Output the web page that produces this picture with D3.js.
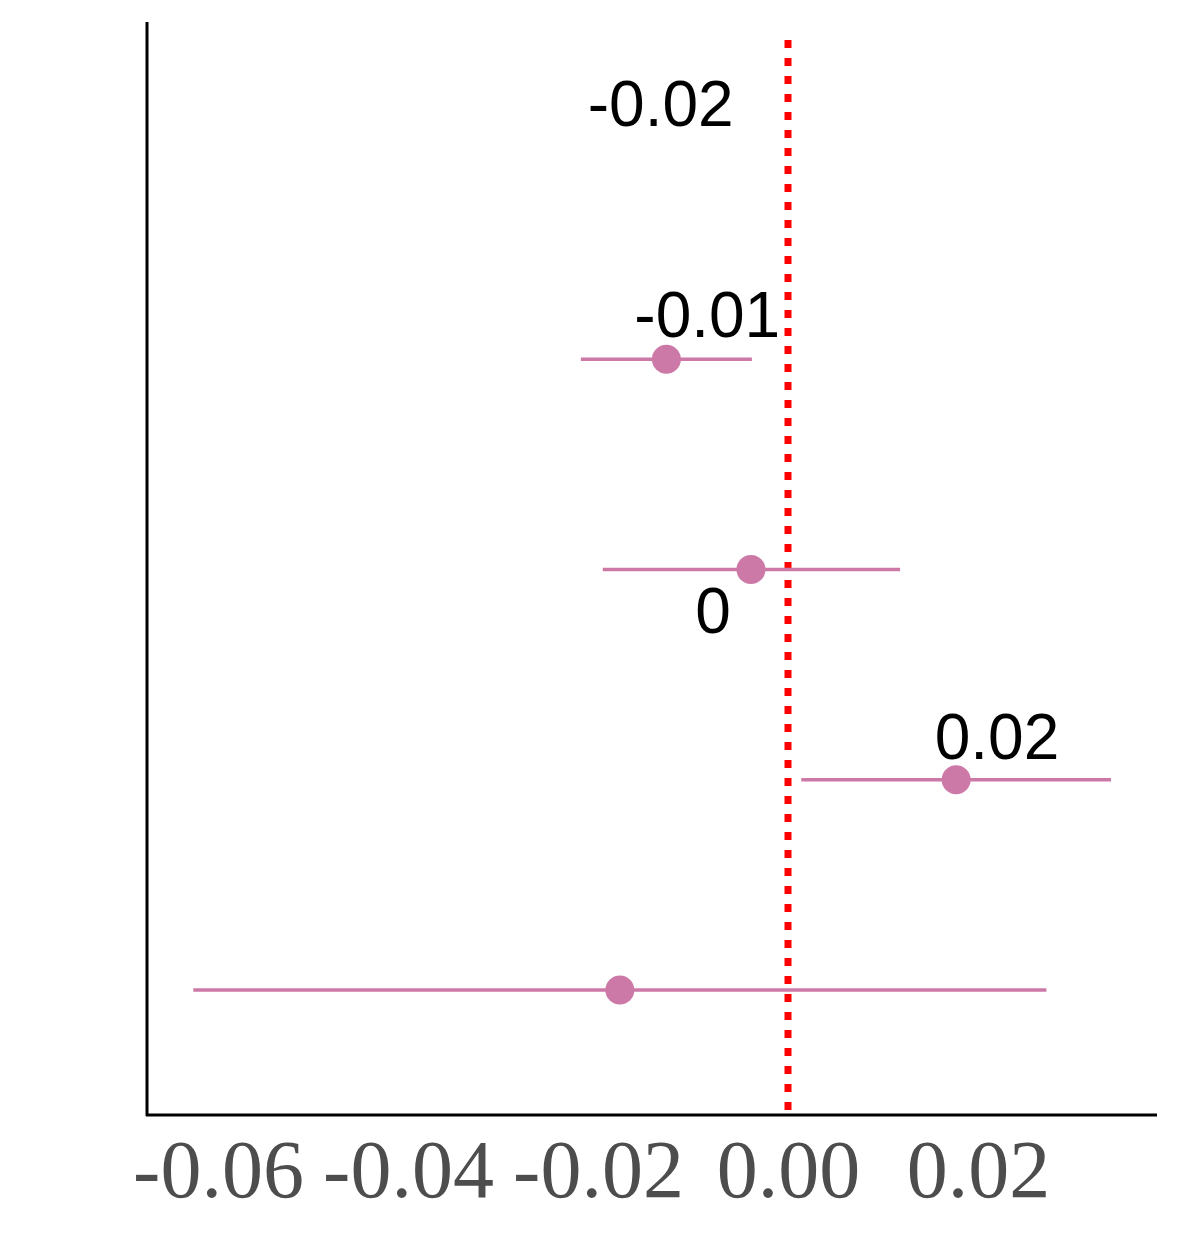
<!DOCTYPE html>
<html>
<head>
<meta charset="utf-8">
<script src="https://cdn.jsdelivr.net/npm/d3@7"></script>
<style>body{margin:0;background:#fff}</style>
</head>
<body>
<svg id="chart" width="1181" height="1247"></svg>
<script>
// rows top to bottom; first row has no estimate drawn
const rows = [1, 2, 3, 4, 5];
const estimates = [null, -0.0128, -0.0039, 0.0177, -0.0177];
const lower = [null, -0.0218, -0.0195, 0.0014, -0.0626];
const upper = [null, -0.0038, 0.0118, 0.034, 0.0272];
const labels = ["-0.02", "-0.01", "0", "0.02", null];
const labelX = [-0.0134, -0.0085, -0.0079, 0.022, null];
const labelDy = [-23, -22, 63, -21, 0];
const ticks = [-0.06, -0.04, -0.02, 0.00, 0.02];
const tickLabels = ["-0.06", "-0.04", "-0.02", "0.00", "0.02"];

const svg = d3.select("#chart");
const x = d3.scaleLinear().domain([-0.06, 0.02]).range([218, 978]);
const y = d3.scalePoint().domain(rows).range([149, 990]);

svg.append("line").attr("x1", 147).attr("x2", 147).attr("y1", 22).attr("y2", 1116)
  .attr("stroke", "#000").attr("stroke-width", 3);
svg.append("line").attr("x1", 146).attr("x2", 1157).attr("y1", 1115).attr("y2", 1115)
  .attr("stroke", "#000").attr("stroke-width", 3);

svg.append("line").attr("x1", x(0)).attr("x2", x(0)).attr("y1", 40).attr("y2", 1115)
  .attr("stroke", "#ff0000").attr("stroke-width", 7).attr("stroke-dasharray", "8,10");

const axis = svg.append("g").attr("transform", "translate(0,1115)")
  .call(d3.axisBottom(x).tickValues(ticks).tickFormat((d, i) => tickLabels[i]).tickSize(0).tickPadding(24));
axis.select(".domain").remove();
axis.selectAll("text").attr("font-family", "Liberation Serif, DejaVu Serif, serif")
  .attr("font-size", 82).attr("fill", "#4d4d4d");

rows.forEach((r, i) => {
  if (estimates[i] !== null) {
    svg.append("line").attr("x1", x(lower[i])).attr("x2", x(upper[i]))
      .attr("y1", y(r)).attr("y2", y(r)).attr("stroke", "#cc79a7").attr("stroke-width", 3.5);
    svg.append("circle").attr("cx", x(estimates[i])).attr("cy", y(r)).attr("r", 14.5)
      .attr("fill", "#cc79a7");
  }
  if (labels[i] !== null) {
    svg.append("text").attr("x", x(labelX[i])).attr("y", y(r) + labelDy[i])
      .attr("text-anchor", "middle").attr("font-family", "Liberation Sans, Arial, sans-serif")
      .attr("font-size", 64).attr("fill", "#000").text(labels[i]);
  }
});
</script>
</body>
</html>
